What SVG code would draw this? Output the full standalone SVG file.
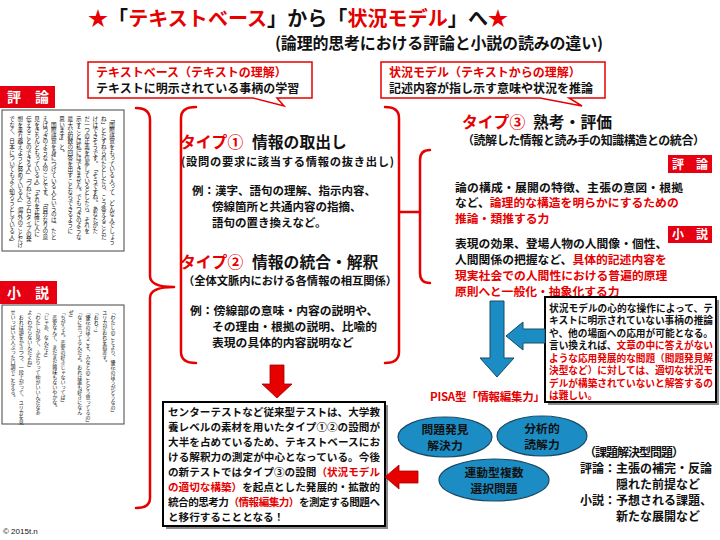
<svg xmlns="http://www.w3.org/2000/svg" width="720" height="540" viewBox="0 0 720 540">
<defs>
<style>
text{font-family:"Noto Sans CJK JP","Noto Sans CJK SC",sans-serif;font-weight:bold;fill:#111}
.r{fill:#e60000}
.w{fill:#fff}
.h{font-size:15.8px}
.m{font-size:11.8px}
.v{font-size:5.6px;font-weight:normal;writing-mode:vertical-rl}
.v2{font-size:5px;font-weight:normal;writing-mode:vertical-rl}
.br{fill:none;stroke:#e60000;stroke-width:2.5;stroke-linecap:round;stroke-linejoin:round}
.lab{fill:#e60012}
.tb{fill:#fff;stroke:#444;stroke-width:1}
.bx{fill:#fff;stroke:#000;stroke-width:2}
.sh{fill:#8a8a8a}
.ov{fill:#1b8dc4;stroke:#1a4a66;stroke-width:1.2}
.ba{fill:#1b8dc4;stroke:#1a4a66;stroke-width:1}
.ra{fill:#e60000;stroke:#a00000;stroke-width:0.8}
.co{fill:#fff;stroke:#e60000;stroke-width:1.5}
</style>
</defs>
<rect width="720" height="540" fill="#fff"/>

<g id="title">
<text x="88" y="26" font-size="20" textLength="420"><tspan class="r">★</tspan>「<tspan class="r">テキストベース</tspan>」から「<tspan class="r">状況モデル</tspan>」へ<tspan class="r">★</tspan></text>
<text x="275" y="49" font-size="16" textLength="328">(論理的思考における評論と小説の読みの違い)</text>
</g>

<g id="callout-textbase">
<path class="co" d="M88,62 H312 V98 H277 L284,106 L253,98 H88 Z"/>
<text x="96" y="76.5" font-size="12" class="r">テキストベース（テキストの理解）</text>
<text x="96" y="92.5" font-size="12">テキストに明示されている事柄の学習</text>
</g>

<g id="callout-situation">
<path class="co" d="M381,62 H605 V98 H569 L582,106 L540,98 H381 Z"/>
<text x="389" y="76.5" font-size="12" class="r">状況モデル（テキストからの理解）</text>
<text x="389" y="92.5" font-size="12">記述内容が指し示す意味や状況を推論</text>
</g>

<g id="hyoron-left">
<rect class="lab" x="0" y="86" width="55" height="22"/>
<text x="28" y="102" font-size="14" class="w" text-anchor="middle">評　論</text>
<rect class="tb" x="2" y="110" width="122" height="141"/>
<text class="v" x="112" y="116">「国際感覚をもっている人って、どんな人でしょう</text>
<text class="v" x="103.7" y="116">ね」とたずねられたとしたら、こう答えることだ</text>
<text class="v" x="95.3" y="116">けはできそうです。「そうですね。あなたがた</text>
<text class="v" x="87" y="116">だ一つの正義を信奉しているとしたら、それを</text>
<text class="v" x="78.7" y="116">示すことは私にはできません。でもつぎのような</text>
<text class="v" x="70.3" y="116">最大公約数の回答を出すことならできるように</text>
<text class="v" x="62" y="116">思います」と。</text>
<text class="v" x="53.7" y="116">　国際感覚を身につけている人というのは、たと</text>
<text class="v" x="45.3" y="116">えばつぎのような人のことです。「自分なりの意</text>
<text class="v" x="37" y="116">見をきちんともっている人」「それを正確に人に</text>
<text class="v" x="28.7" y="116">伝えることのできる人」「つねにステロタイプの発</text>
<text class="v" x="20.3" y="116">想を乗り越えようと努めている人」「海外のことだけ</text>
<text class="v" x="12" y="116">でなく、日本についてもよく知ろうとしている人」</text>
</g>

<g id="shosetsu-left">
<rect class="lab" x="0" y="281" width="57" height="23"/>
<text x="28" y="298" font-size="14" class="w" text-anchor="middle">小　説</text>
<rect class="tb" x="2" y="305" width="122" height="119"/>
<text class="v2" x="113" y="310">「わたしのことより、優花のほうがどうなの」</text>
<text class="v2" x="104.7" y="310">ユリカがおれを指差す。</text>
<text class="v2" x="96.3" y="310">「おれ？」</text>
<text class="v2" x="88" y="310">「優花のほうこそ、みなとのことどう思ってるの」</text>
<text class="v2" x="79.7" y="310">「なに言ってるんだよ。おれは誰も好きになん</text>
<text class="v2" x="71.3" y="310">ぜ」</text>
<text class="v2" x="63" y="310">「ちがうよ。恋愛の好きじゃないってば」</text>
<text class="v2" x="54.7" y="310">　恋愛なんて、まだまだ興味もないやかな。</text>
<text class="v2" x="46.3" y="310">「じゃあ、なんだよ」</text>
<text class="v2" x="38" y="310">「わたしが見て、ふたりって仲がいいんだなあ</text>
<text class="v2" x="29.7" y="310">よくわからないんだよね」</text>
<text class="v2" x="21.3" y="310">　おれは頭をかきつつ、一段上がって、ユリカを見</text>
<text class="v2" x="13" y="310">せいっぱい大人ぶった口調でこたえる。</text>
</g>

<g id="type1">
<text x="180" y="148" class="h r">タイプ①</text>
<text x="252" y="148" class="h">情報の取出し</text>
<text x="181" y="165.5" font-size="11.3" textLength="213">(設問の要求に該当する情報の抜き出し)</text>
<text x="192" y="194.5" font-size="11.5">例：漢字、語句の理解、指示内容、</text>
<text x="212" y="210.5" font-size="11.5">傍線箇所と共通内容の指摘、</text>
<text x="212" y="226.5" font-size="11.5">語句の置き換えなど。</text>
</g>

<g id="type2">
<text x="180" y="268" class="h r">タイプ②</text>
<text x="252" y="268" class="h">情報の統合・解釈</text>
<text x="183" y="285" font-size="11.3" textLength="214">（全体文脈内における各情報の相互関係）</text>
<text x="190" y="315" class="m">例：傍線部の意味・内容の説明や、</text>
<text x="212" y="331" class="m">その理由・根拠の説明、比喩的</text>
<text x="212" y="347" class="m">表現の具体的内容説明など</text>
</g>

<g id="type3">
<text x="462" y="127.5" class="h r">タイプ③</text>
<text x="533" y="127.5" class="h">熟考・評価</text>
<text x="462" y="144.5" font-size="12" textLength="243">（読解した情報と読み手の知識構造との統合）</text>
<rect class="lab" x="668" y="155" width="44" height="18"/>
<text x="690" y="168.5" font-size="12" class="w" text-anchor="middle">評　論</text>
<text x="455" y="191.5" class="m" textLength="228">論の構成・展開の特徴、主張の意図・根拠</text>
<text x="455" y="207" class="m">など、<tspan class="r">論理的な構造を明らかにするための</tspan></text>
<text x="455" y="222.5" class="m r">推論・類推する力</text>
<rect class="lab" x="668" y="226" width="44" height="17"/>
<text x="690" y="239" font-size="12" class="w" text-anchor="middle">小　説</text>
<text x="455" y="248" class="m">表現の効果、登場人物の人間像・個性、</text>
<text x="455" y="264" class="m">人間関係の把握など、<tspan class="r">具体的記述内容を</tspan></text>
<text x="455" y="280" class="m r">現実社会での人間性における普遍的原理</text>
<text x="455" y="296" class="m r">原則へと一般化・抽象化する力</text>
</g>

<g id="situation-note">
<rect class="sh" x="548" y="300" width="171" height="105"/>
<rect class="bx" x="545" y="297" width="171" height="105"/>
<g font-size="9.7">
<text x="549" y="311.5" textLength="164">状況モデルの心的な操作によって、テ</text>
<text x="549" y="324" textLength="164">キストに明示されていない事柄の推論</text>
<text x="549" y="336.5" textLength="164">や、他の場面への応用が可能となる。</text>
<text x="549" y="349" textLength="164">言い換えれば、<tspan class="r">文章の中に答えがない</tspan></text>
<text x="549" y="361.5" textLength="164" class="r">ような応用発展的な問題（問題発見解</text>
<text x="549" y="374" textLength="164" class="r">決型など）に対しては、適切な状況モ</text>
<text x="549" y="386.5" textLength="164" class="r">デルが構築されていないと解答するの</text>
<text x="549" y="399" class="r">は難しい。</text>
</g>
</g>

<g id="pisa">
<text x="430" y="401" font-size="11.5" class="r" textLength="115">PISA型「情報編集力」</text>
</g>

<g id="oval-mondai">
<ellipse class="ov" cx="445" cy="437" rx="47" ry="20"/>
<text x="445" y="434" class="m" text-anchor="middle">問題発見</text>
<text x="445" y="450" class="m" text-anchor="middle">解決力</text>
</g>
<g id="oval-bunseki">
<ellipse class="ov" cx="542" cy="436" rx="45" ry="20"/>
<text x="542" y="433" class="m" text-anchor="middle">分析的</text>
<text x="542" y="449" class="m" text-anchor="middle">読解力</text>
</g>
<g id="oval-rendo">
<ellipse class="ov" cx="494" cy="480" rx="55" ry="21"/>
<text x="494" y="477" class="m" text-anchor="middle">連動型複数</text>
<text x="494" y="493" class="m" text-anchor="middle">選択問題</text>
</g>

<g id="kadai">
<text x="584" y="457" font-size="12" textLength="100">（課題解決型問題）</text>
<text x="580" y="473" font-size="12">評論：主張の補完・反論</text>
<text x="616" y="489" font-size="12">隠れた前提など</text>
<text x="580" y="505" font-size="12">小説：予想される課題、</text>
<text x="616" y="521" font-size="12">新たな展開など</text>
</g>

<g id="conclusion">
<rect class="sh" x="166" y="405" width="222" height="124"/>
<rect class="bx" x="163" y="402" width="222" height="124"/>
<g font-size="10.6">
<text x="168" y="415.5" textLength="212">センターテストなど従来型テストは、大学教</text>
<text x="168" y="430.5" textLength="212">養レベルの素材を用いたタイプ①②の設問が</text>
<text x="168" y="445.5" textLength="212">大半を占めているため、テキストベースにお</text>
<text x="168" y="460.5" textLength="212">ける解釈力の測定が中心となっている。今後</text>
<text x="168" y="475.5" textLength="212">の新テストではタイプ③の設問<tspan class="r">（状況モデル</tspan></text>
<text x="168" y="490.5" textLength="212"><tspan class="r">の適切な構築）</tspan>を起点とした発展的・拡散的</text>
<text x="168" y="505.5" textLength="212">統合的思考力<tspan class="r">（情報編集力）</tspan>を測定する問題へ</text>
<text x="168" y="520.5">と移行することとなる！</text>
</g>
</g>

<g id="connectors">
<path class="br" d="M136,108 Q150,108 150,120 L150,276 Q150,287 174,287 Q150,287 150,298 L150,498 Q150,508 136,508"/>
<path class="br" d="M196,107 Q181,107 181,118 L181,352 Q181,363 196,363"/>
<path class="br" d="M385,107 Q399,107 399,118 L399,352 Q399,363 385,363 M399,212 H420"/>
<path class="br" d="M430,150 Q420,150 420,160 L420,273 Q420,283 430,283"/>
<path class="ra" d="M270,365 H284 V384 H292 L277,398 L262,384 H270 Z"/>
<path class="ra" d="M418,471 H399 V465 L385,477 L399,489 V483 H418 Z"/>
<path class="ba" d="M490,301 H504 V358 H514 L497,377 L480,358 H490 Z"/>
<path class="ba" d="M545,329 H523 V322 L506,336 L523,350 V343 H545 Z"/>
</g>

<text x="3" y="534" font-size="8" style="font-family:'Liberation Sans',sans-serif;font-weight:normal">© 2015t.n</text>
</svg>
